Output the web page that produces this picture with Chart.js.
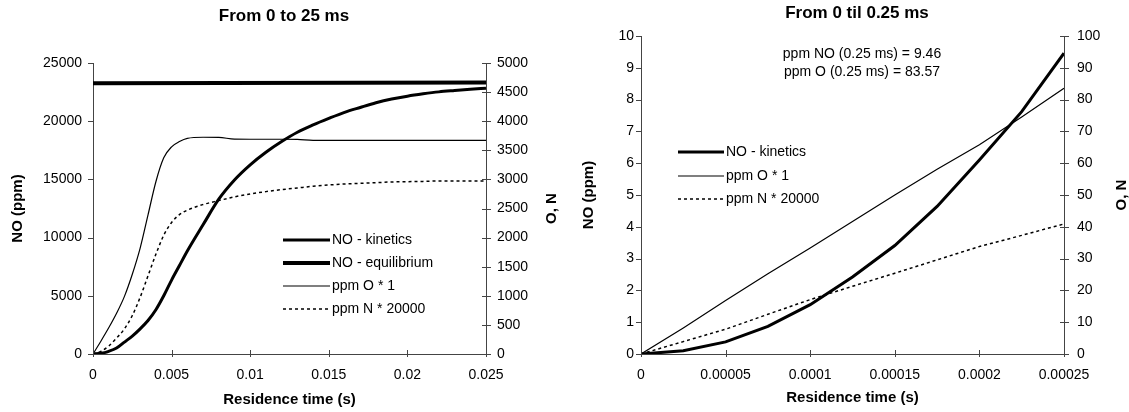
<!DOCTYPE html>
<html>
<head>
<meta charset="utf-8">
<script src="https://cdn.jsdelivr.net/npm/chart.js@4.4.1/dist/chart.umd.min.js"></script>
<style>
    html, body { margin: 0; padding: 0; background: #fff; }
    #wrap { position: relative; width: 1129px; height: 412px; }
    #chartA { position: absolute; left: 0; top: 0; }
    #chartB { position: absolute; left: 560px; top: 0; }
</style>
</head>
<body>
<div id="wrap">
    <canvas id="chartA" width="560" height="412"></canvas>
    <canvas id="chartB" width="569" height="412"></canvas>
</div>
<script>
// Left chart: 0 to 25 ms
const tA = [0, 0.0005, 0.001, 0.0015, 0.002, 0.0025, 0.003, 0.0035, 0.004, 0.0045,
            0.005, 0.0055, 0.006, 0.007, 0.008, 0.009, 0.010, 0.011, 0.012, 0.013,
            0.014, 0.015, 0.016, 0.017, 0.018, 0.019, 0.020, 0.021, 0.022, 0.023,
            0.024, 0.025];
const noKinA = [0, 57, 230, 510, 1025, 1540, 2160, 2875, 3800, 5000,
                6350, 7600, 8850, 11100, 13300, 14950, 16250, 17330, 18250, 19050,
                19680, 20240, 20760, 21180, 21580, 21900, 22150, 22350, 22520, 22640,
                22750, 22840];
const oA = [0, 220, 450, 700, 990, 1370, 1820, 2390, 2960, 3370,
            3560, 3650, 3705, 3724, 3722, 3692, 3690, 3690, 3690, 3688,
            3672, 3672, 3672, 3671, 3671, 3671, 3671, 3671, 3671, 3671,
            3671, 3671];
const nA = [0, 46, 137, 273, 433, 661, 974, 1344, 1714, 2040,
            2260, 2395, 2472, 2568, 2636, 2700, 2750, 2790, 2824, 2853,
            2882, 2904, 2921, 2933, 2944, 2956, 2961, 2966, 2972, 2972,
            2972, 2972];
const tEqA = [0, 0.025];
const noEqA = [23250, 23330];

const xTicksA = [0, 0.005, 0.01, 0.015, 0.02, 0.025];
const yTicksA = [0, 5000, 10000, 15000, 20000, 25000];
const y1TicksA = [0, 500, 1000, 1500, 2000, 2500, 3000, 3500, 4000, 4500, 5000];

// Right chart: 0 to 0.25 ms
const tB = [0, 0.000025, 0.00005, 0.000075, 0.0001, 0.000125, 0.00015, 0.000175, 0.0002, 0.000225, 0.00025];
const noKinB = [0, 0.10, 0.38, 0.87, 1.55, 2.42, 3.41, 4.64, 6.10, 7.62, 9.46];
const oB = [0, 8.2, 16.8, 25.2, 33.3, 41.7, 50.0, 58.1, 65.8, 74.5, 83.57];
const nB = [0, 3.9, 7.8, 12.5, 17.1, 21.3, 25.4, 29.6, 33.8, 37.3, 40.9];

const xTicksB = [0, 0.00005, 0.0001, 0.00015, 0.0002, 0.00025];
const yTicksB = [0, 1, 2, 3, 4, 5, 6, 7, 8, 9, 10];
const y1TicksB = [0, 10, 20, 30, 40, 50, 60, 70, 80, 90, 100];

const axisColor = '#444';
const fontFamily = '"Liberation Sans", Arial, sans-serif';
Chart.defaults.font.family = fontFamily;
Chart.defaults.color = '#000';

const fmt = v => String(+Number(v).toFixed(6));
const pts = (xs, ys) => xs.map((x, i) => ({ x: x, y: ys[i] }));
const setTicks = arr => scale => { scale.ticks = arr.map(v => ({ value: v })); };

// ticks, titles, legend and notes drawn over the chart
const decor = {
    id: 'decor',
    afterDraw(chart, args, opts) {
        const ctx = chart.ctx;
        const area = chart.chartArea;
        const sx = chart.scales.x, sy = chart.scales.y, sy1 = chart.scales.y1;
        ctx.save();
        ctx.strokeStyle = axisColor;
        ctx.lineWidth = 1;
        ctx.beginPath();
        sx.ticks.forEach(t => {
            const px = Math.round(sx.getPixelForValue(t.value)) + 0.5;
            ctx.moveTo(px, area.bottom - 4);
            ctx.lineTo(px, area.bottom + 3);
        });
        sy.ticks.forEach(t => {
            const py = Math.round(sy.getPixelForValue(t.value)) + 0.5;
            ctx.moveTo(area.left - 5, py);
            ctx.lineTo(area.left, py);
        });
        sy1.ticks.forEach(t => {
            const py = Math.round(sy1.getPixelForValue(t.value)) + 0.5;
            ctx.moveTo(area.right - 4, py);
            ctx.lineTo(area.right + 5, py);
        });
        ctx.stroke();

        ctx.fillStyle = '#000';
        ctx.textAlign = 'center';
        ctx.textBaseline = 'middle';
        ctx.font = 'bold 17px ' + fontFamily;
        ctx.fillText(opts.title, opts.titleX, opts.titleY);

        // right axis title, reads bottom to top
        ctx.save();
        ctx.font = 'bold 15px ' + fontFamily;
        ctx.translate(opts.rightTitleX, (area.top + area.bottom) / 2);
        ctx.rotate(-Math.PI / 2);
        ctx.fillText('O, N', 0, 0);
        ctx.restore();

        // legend
        ctx.font = '14px ' + fontFamily;
        ctx.textAlign = 'left';
        chart.data.datasets.forEach((ds, i) => {
            const y = opts.legend.rows[i];
            ctx.save();
            ctx.strokeStyle = ds.borderColor;
            ctx.lineWidth = ds.borderWidth;
            ctx.setLineDash(ds.borderDash || []);
            ctx.beginPath();
            ctx.moveTo(opts.legend.x1, y);
            ctx.lineTo(opts.legend.x2, y);
            ctx.stroke();
            ctx.restore();
            ctx.fillText(ds.label, opts.legend.x2 + 2, y);
        });

        if (opts.notes) {
            ctx.textAlign = 'center';
            opts.notes.lines.forEach((line, i) => {
                ctx.fillText(line, opts.notes.x, opts.notes.ys[i]);
            });
        }
        ctx.restore();
    }
};

function axisX(min, max, ticks, height, titlePad) {
    return {
        type: 'linear', min: min, max: max,
        afterBuildTicks: setTicks(ticks),
        afterFit: s => { s.height = height; },
        grid: { display: false, tickLength: 0 },
        border: { display: true, color: axisColor, width: 1 },
        ticks: { padding: 13, font: { size: 14 }, maxRotation: 0, autoSkip: false, callback: fmt },
        title: { display: true, text: 'Residence time (s)', font: { size: 15, weight: 'bold' }, padding: { top: 0, bottom: titlePad } }
    };
}

function axisY(pos, min, max, ticks, width, pad, title, titlePad) {
    const axis = {
        type: 'linear', position: pos, min: min, max: max,
        afterBuildTicks: setTicks(ticks),
        afterFit: s => { s.width = width; },
        grid: { display: false, tickLength: 0 },
        border: { display: true, color: axisColor, width: 1 },
        ticks: { padding: pad, font: { size: 14 }, autoSkip: false, callback: fmt }
    };
    if (title) {
        axis.title = { display: true, text: title, font: { size: 15, weight: 'bold' }, padding: { top: titlePad, bottom: 0 } };
    }
    return axis;
}

new Chart(document.getElementById('chartA'), {
    type: 'line',
    data: {
        datasets: [
            { label: 'NO - kinetics', data: pts(tA, noKinA), yAxisID: 'y', borderColor: '#000', borderWidth: 3, cubicInterpolationMode: 'monotone' },
            { label: 'NO - equilibrium', data: pts(tEqA, noEqA), yAxisID: 'y', borderColor: '#000', borderWidth: 4 },
            { label: 'ppm O * 1', data: pts(tA, oA), yAxisID: 'y1', borderColor: '#000', borderWidth: 1.2, cubicInterpolationMode: 'monotone' },
            { label: 'ppm N * 20000', data: pts(tA, nA), yAxisID: 'y1', borderColor: '#000', borderWidth: 1.5, borderDash: [3, 3], cubicInterpolationMode: 'monotone' }
        ]
    },
    options: {
        responsive: false,
        animation: false,
        devicePixelRatio: 1,
        layout: { padding: { top: 63, left: 0, right: 0, bottom: 0 } },
        elements: { point: { radius: 0 } },
        scales: {
            x: axisX(0, 0.025, xTicksA, 58, 3),
            y: axisY('left', 0, 25000, yTicksA, 93, 11, 'NO (ppm)', 9),
            y1: axisY('right', 0, 5000, y1TicksA, 74, 11)
        },
        plugins: {
            legend: { display: false },
            tooltip: { enabled: false },
            decor: {
                title: 'From 0 to 25 ms', titleX: 284, titleY: 16,
                rightTitleX: 552,
                legend: { x1: 283, x2: 330, rows: [240, 263, 286, 309] }
            }
        }
    },
    plugins: [decor]
});

new Chart(document.getElementById('chartB'), {
    type: 'line',
    data: {
        datasets: [
            { label: 'NO - kinetics', data: pts(tB, noKinB), yAxisID: 'y', borderColor: '#000', borderWidth: 3 },
            { label: 'ppm O * 1', data: pts(tB, oB), yAxisID: 'y1', borderColor: '#000', borderWidth: 1.2 },
            { label: 'ppm N * 20000', data: pts(tB, nB), yAxisID: 'y1', borderColor: '#000', borderWidth: 1.5, borderDash: [3, 3] }
        ]
    },
    options: {
        responsive: false,
        animation: false,
        devicePixelRatio: 1,
        layout: { padding: { top: 36, left: 0, right: 0, bottom: 0 } },
        elements: { point: { radius: 0 } },
        scales: {
            x: axisX(0, 0.00025, xTicksB, 58, 5),
            y: axisY('left', 0, 10, yTicksB, 81, 7, 'NO (ppm)', 20),
            y1: axisY('right', 0, 100, y1TicksB, 65, 13)
        },
        plugins: {
            legend: { display: false },
            tooltip: { enabled: false },
            decor: {
                title: 'From 0 til 0.25 ms', titleX: 297, titleY: 13,
                rightTitleX: 562,
                legend: { x1: 118, x2: 164, rows: [152, 176, 199] },
                notes: { x: 302, ys: [54, 72], lines: ['ppm NO (0.25 ms) = 9.46', 'ppm O (0.25 ms) = 83.57'] }
            }
        }
    },
    plugins: [decor]
});
</script>
</body>
</html>
